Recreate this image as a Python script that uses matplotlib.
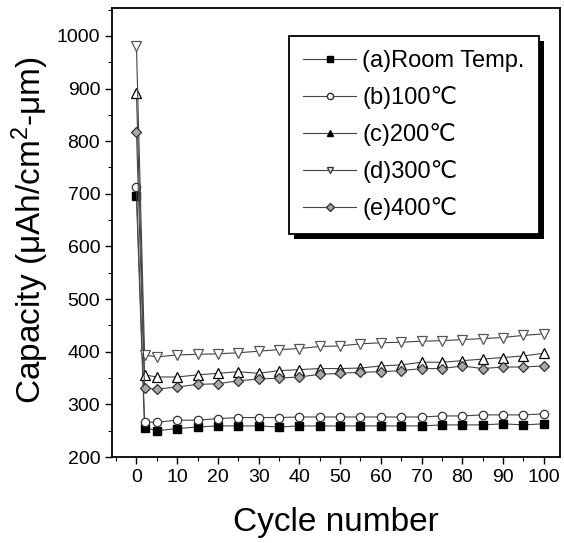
import matplotlib
matplotlib.use("Agg")
import matplotlib.pyplot as plt
from matplotlib.lines import Line2D
from matplotlib.patches import Rectangle

plt.rcParams['font.family'] = ['Liberation Sans', 'DejaVu Sans']
plt.rcParams['mathtext.fontset'] = 'custom'
plt.rcParams['mathtext.rm'] = 'Liberation Sans'
plt.rcParams['mathtext.it'] = 'Liberation Sans'

cycles = [0, 2, 5, 10, 15, 20, 25, 30, 35, 40, 45, 50, 55, 60, 65, 70, 75, 80, 85, 90, 95, 100]

cap_room = [695, 256, 250, 254, 257, 259, 259, 259, 257, 259, 259, 259, 259, 259, 259, 259, 261, 261, 261, 263, 261, 263]
cap_100 = [712, 266, 266, 270, 270, 273, 275, 275, 275, 276, 276, 276, 276, 276, 276, 276, 278, 278, 280, 280, 280, 282]
cap_200 = [892, 356, 352, 352, 356, 359, 362, 359, 364, 366, 368, 368, 369, 373, 375, 380, 380, 383, 386, 389, 392, 397]
cap_300 = [981, 394, 390, 394, 395, 396, 398, 401, 404, 406, 410, 411, 415, 417, 418, 420, 421, 423, 425, 427, 431, 434]
cap_400 = [818, 331, 329, 333, 338, 339, 345, 348, 350, 352, 357, 359, 361, 362, 364, 368, 368, 373, 368, 371, 371, 373]

labels = ['(a)Room Temp.', '(b)100\u2103', '(c)200\u2103', '(d)300\u2103', '(e)400\u2103']
xticks = [0, 10, 20, 30, 40, 50, 60, 70, 80, 90, 100]
yticks = [200, 300, 400, 500, 600, 700, 800, 900, 1000]

fig = plt.figure(figsize=(5.64, 5.43), dpi=100)
# axes: left 112px, right 560px, top 8px, bottom 457px
ax = fig.add_axes([112 / 564, 1 - 457 / 543, 448 / 564, 449 / 543])

lc = '#444444'
ax.plot(cycles, cap_room, '-', color=lc, lw=0.8, marker='s', ms=6, mfc='black', mec='black')
ax.plot(cycles, cap_100, '-', color=lc, lw=0.8, marker='o', ms=6, mfc='white', mec='#333333', mew=0.9)
ax.plot(cycles, cap_200, '-', color=lc, lw=0.8, marker='^', ms=6.5, mfc='white', mec='black', mew=0.9)
ax.plot(cycles, cap_300, '-', color=lc, lw=0.8, marker='v', ms=6.5, mfc='white', mec='#555555', mew=0.9)
ax.plot(cycles, cap_400, '-', color=lc, lw=0.8, marker='D', ms=5, mfc='#a8a8a8', mec='#333333', mew=0.9)

ax.set_xlim(-6, 104)
ax.set_ylim(200, 1053)
ax.set_xticks(xticks)
ax.set_yticks(yticks)
ax.set_xticks(list(range(-5, 105, 10)), minor=True)
ax.set_yticks(list(range(250, 1051, 100)), minor=True)
ax.tick_params(axis='both', which='major', direction='out', length=5, width=1, labelsize=14)
ax.tick_params(axis='both', which='minor', direction='out', length=3, width=0.8)
for s in ax.spines.values():
    s.set_linewidth(1.3)

ax.set_xlabel('Cycle number', fontsize=24)
ax.set_ylabel('Capacity (\u03bcAh/cm$^2$-\u03bcm)', fontsize=24)
ax.xaxis.set_label_coords(0.5, -0.112)
ax.yaxis.set_label_coords(-0.137, 0.505)

handles = [
    Line2D([], [], color=lc, lw=0.8, marker='s', ms=4.5, mfc='black', mec='black'),
    Line2D([], [], color=lc, lw=0.8, marker='o', ms=4.5, mfc='white', mec='#333333'),
    Line2D([], [], color=lc, lw=0.8, marker='^', ms=5, mfc='black', mec='black'),
    Line2D([], [], color=lc, lw=0.8, marker='v', ms=5, mfc='white', mec='#333333'),
    Line2D([], [], color=lc, lw=0.8, marker='D', ms=4, mfc='#a8a8a8', mec='#333333'),
]
leg = ax.legend(handles, labels, loc='upper left', bbox_to_anchor=(0.395, 0.937),
                borderaxespad=0, fontsize=17, frameon=True, fancybox=False,
                edgecolor='black', facecolor='white', framealpha=1,
                labelspacing=0.59, handlelength=2.25,
                handletextpad=0.25, borderpad=0.6)
leg.get_frame().set_linewidth(1.3)
leg.set_zorder(5)

fig.canvas.draw()
bb = leg.get_window_extent()
inv = ax.transAxes.inverted()
off = 5
(x0, y0) = inv.transform((bb.x0 + off, bb.y0 - off))
(x1, y1) = inv.transform((bb.x1 + off, bb.y1 - off))
shadow = Rectangle((x0, y0), x1 - x0, y1 - y0, transform=ax.transAxes,
                   facecolor='black', edgecolor='none', zorder=4, clip_on=False)
ax.add_patch(shadow)

fig.savefig('out.png', dpi=100)
